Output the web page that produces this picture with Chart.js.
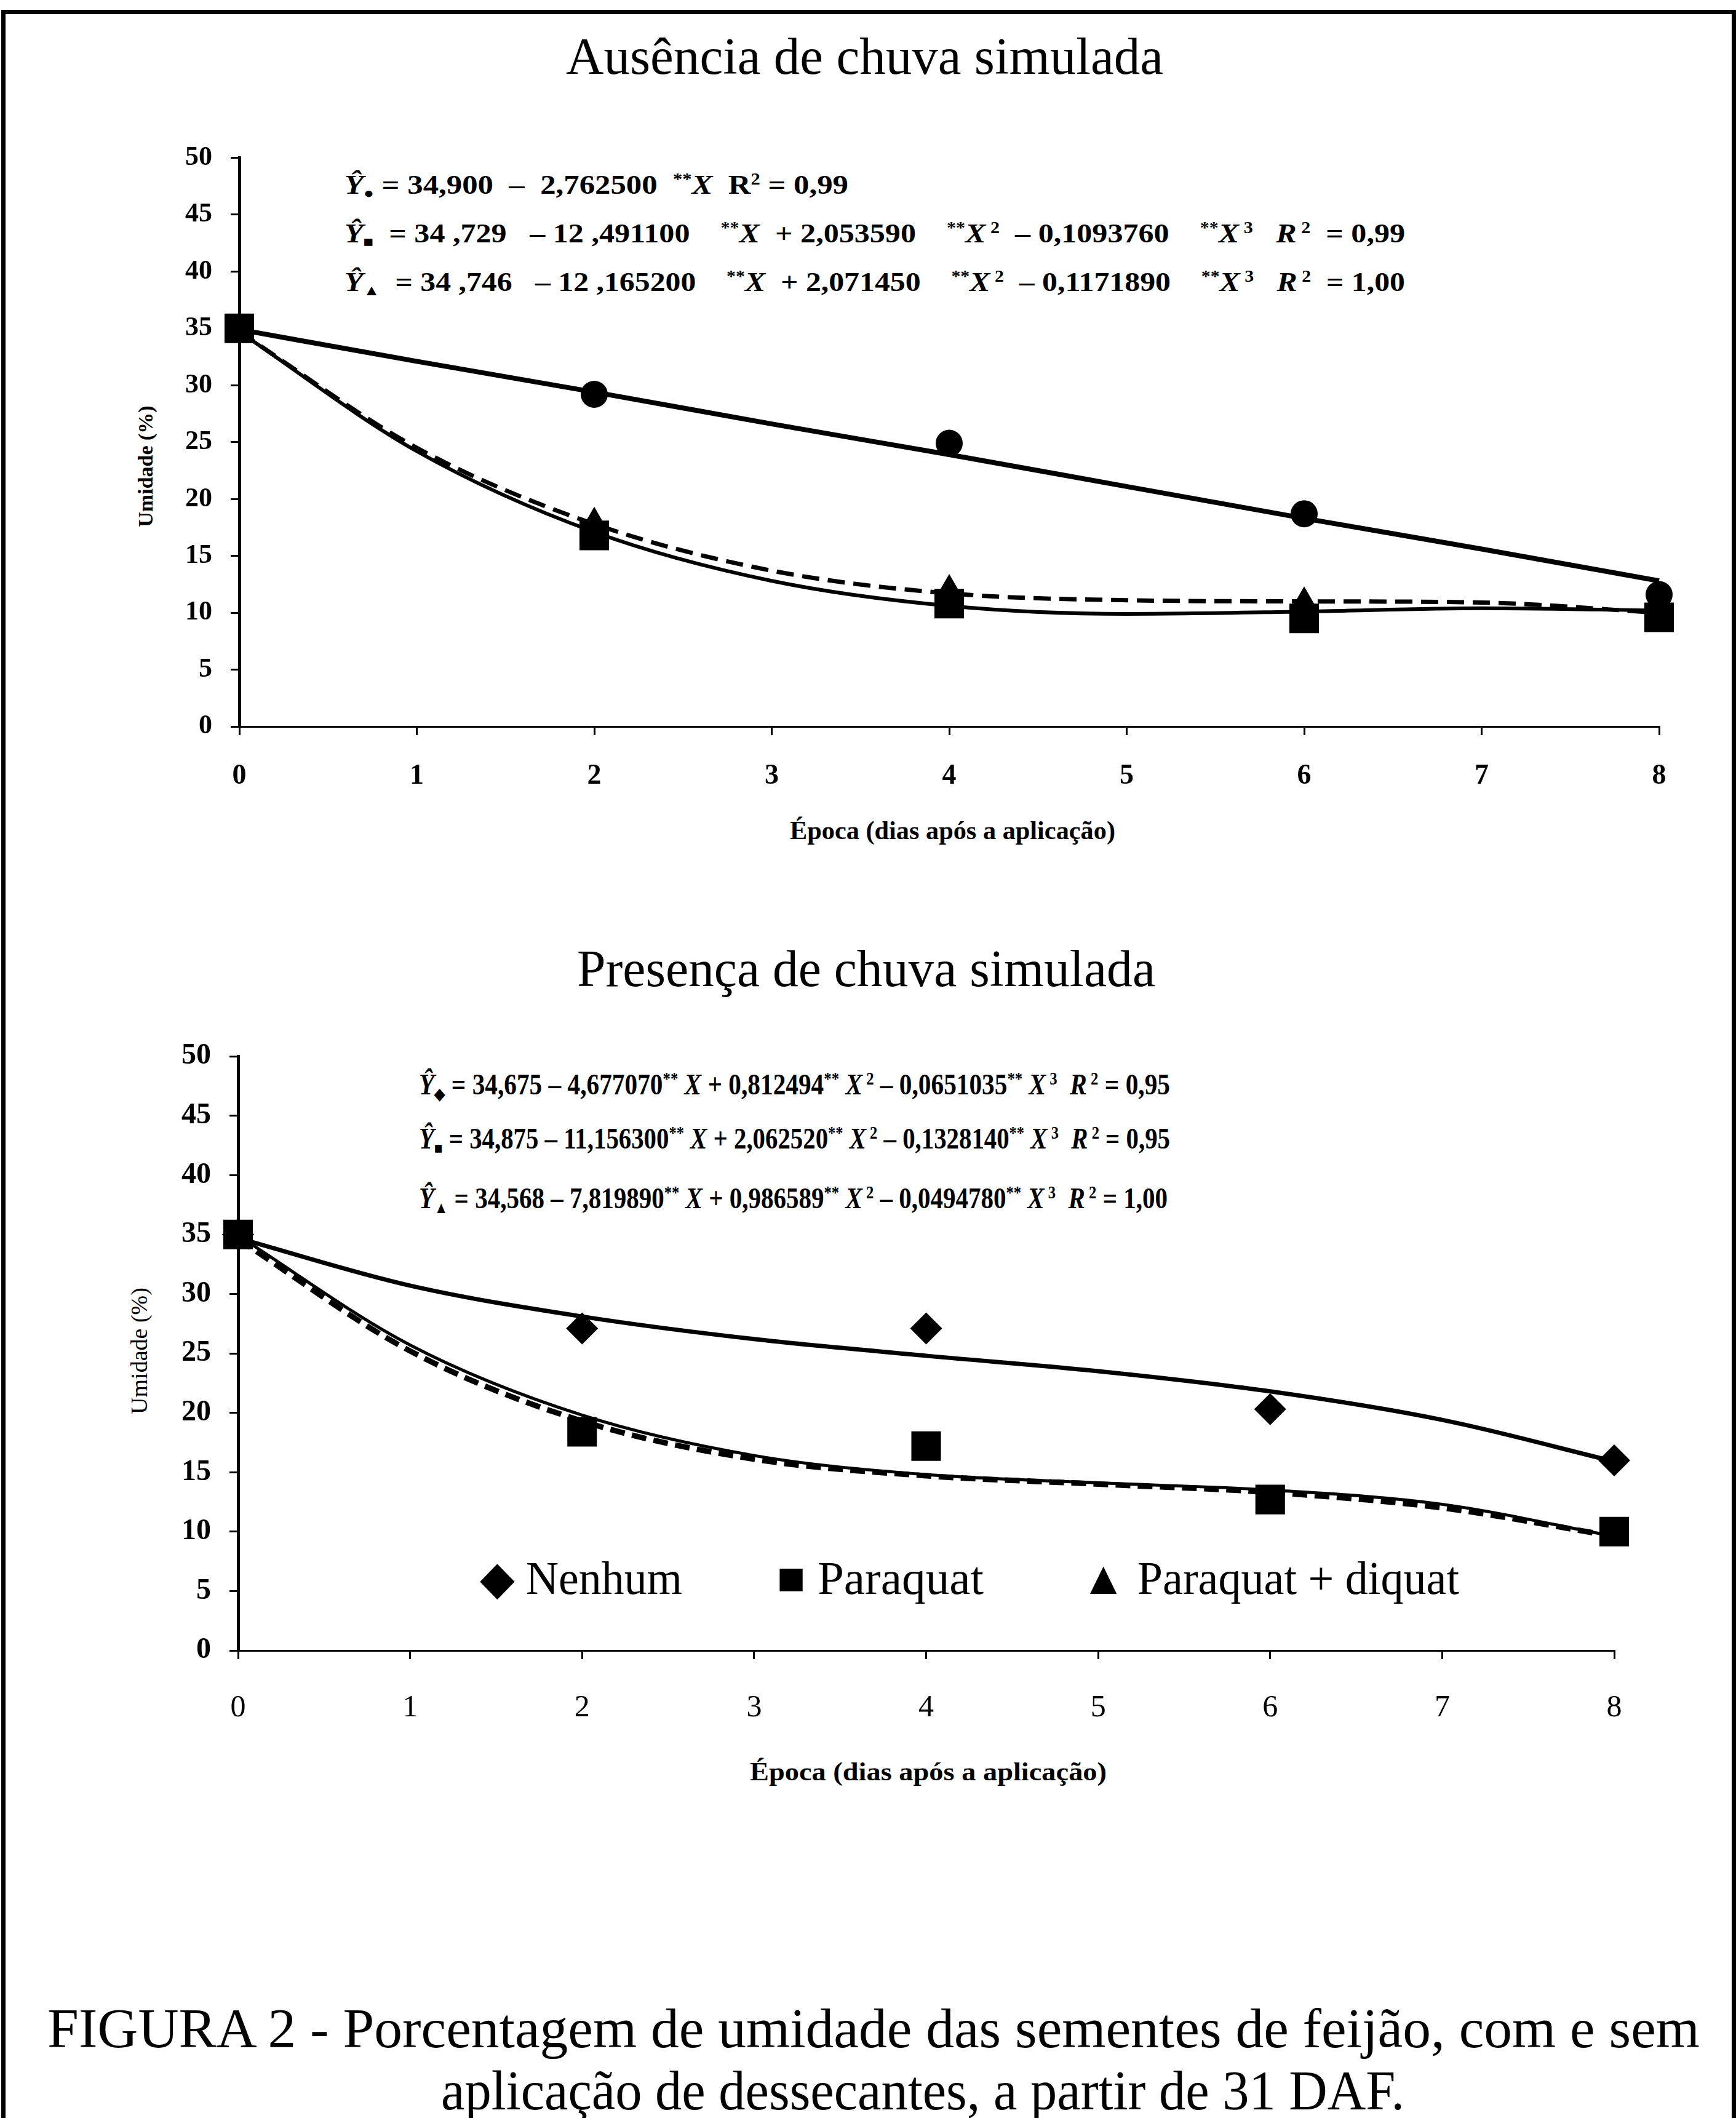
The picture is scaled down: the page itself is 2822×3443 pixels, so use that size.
<!DOCTYPE html>
<html>
<head>
<meta charset="utf-8">
<script src="https://cdn.jsdelivr.net/npm/chart.js@4.4.1/dist/chart.umd.min.js"></script>
<style>
  body { margin: 0; background: #fff; width: 2822px; height: 3443px; position: relative; overflow: hidden;
         font-family: "Liberation Serif", "Times New Roman", serif; color: #000; }
  .frame { position: absolute; left: 2px; top: 16px; width: 2806px; height: 3500px; border: 7px solid #000; border-bottom: none; }
  .t { position: absolute; white-space: pre; line-height: 1; transform-origin: left center; }
  .rot { position: absolute; white-space: pre; line-height: 1; transform: translate(-50%, -50%) rotate(-90deg); }
  .eq { font-weight: bold; }
  .eq i { font-style: italic; }
  .eq sup { font-size: 60%; vertical-align: 0.55em; line-height: 0; }
  .eq sub { font-size: 55%; vertical-align: -0.3em; line-height: 0; }
  canvas { position: absolute; left: 0; }
</style>
</head>
<body>
<div class="frame"></div>

<!-- titulos -->
<div class="t" id="tit1" style="font-size:84px">Ausência de chuva simulada</div>
<div class="t" id="tit2" style="font-size:84px">Presença de chuva simulada</div>

<!-- equações -->
<div class="t eq" id="eqA1" style="font-size:44px"><i>Ŷ</i><sub>●</sub> = 34,900  –  2,762500  <sup>**</sup><i>X</i>  R<sup>2</sup> = 0,99</div>
<div class="t eq" id="eqA2" style="font-size:44px"><i>Ŷ</i><sub>■</sub>  = 34 ,729   – 12 ,491100    <sup>**</sup><i>X</i>  + 2,053590    <sup>**</sup><i>X</i><sup> 2</sup>  – 0,1093760    <sup>**</sup><i>X</i><sup> 3</sup>   <i>R</i><sup> 2</sup>  = 0,99</div>
<div class="t eq" id="eqA3" style="font-size:44px"><i>Ŷ</i><sub>▲</sub>  = 34 ,746   – 12 ,165200    <sup>**</sup><i>X</i>  + 2,071450    <sup>**</sup><i>X</i><sup> 2</sup>  – 0,1171890    <sup>**</sup><i>X</i><sup> 3</sup>   <i>R</i><sup> 2</sup>  = 1,00</div>

<div class="t eq" id="eqB1" style="font-size:48px"><i>Ŷ</i><sub>◆</sub> = 34,675 – 4,677070<sup>**</sup> <i>X</i> + 0,812494<sup>**</sup> <i>X</i><sup> 2</sup> – 0,0651035<sup>**</sup> <i>X</i><sup> 3</sup>  <i>R</i><sup> 2</sup> = 0,95</div>
<div class="t eq" id="eqB2" style="font-size:48px"><i>Ŷ</i><sub>■</sub> = 34,875 – 11,156300<sup>**</sup> <i>X</i> + 2,062520<sup>**</sup> <i>X</i><sup> 2</sup> – 0,1328140<sup>**</sup> <i>X</i><sup> 3</sup>  <i>R</i><sup> 2</sup> = 0,95</div>
<div class="t eq" id="eqB3" style="font-size:48px"><i>Ŷ</i><sub>▲</sub> = 34,568 – 7,819890<sup>**</sup> <i>X</i> + 0,986589<sup>**</sup> <i>X</i><sup> 2</sup> – 0,0494780<sup>**</sup> <i>X</i><sup> 3</sup>  <i>R</i><sup> 2</sup> = 1,00</div>

<!-- eixos -->
<div class="rot" id="ytit1" style="font-size:34px;font-weight:bold;left:237px;top:758px">Umidade (%)</div>
<div class="rot" id="ytit2" style="font-size:38px;left:226px;top:2196px">Umidade (%)</div>
<div class="t" id="xtit1" style="font-size:42px;font-weight:bold">Época (dias após a aplicação)</div>
<div class="t" id="xtit2" style="font-size:42px;font-weight:bold">Época (dias após a aplicação)</div>

<!-- legenda -->
<div class="t" id="leg1" style="font-size:76px"></div>
<div class="t" id="leg2" style="font-size:76px"></div>
<div class="t" id="leg3" style="font-size:76px"></div>

<!-- legenda da figura -->
<div class="t" id="cap1" style="font-size:90px">FIGURA 2 - Porcentagem de umidade das sementes de feijão, com e sem</div>
<div class="t" id="cap2" style="font-size:90px">aplicação de dessecantes, a partir de 31 DAF.</div>

<canvas id="graf1" width="2822" height="1130" style="top:200px"></canvas>
<canvas id="graf2" width="2822" height="1200" style="top:1650px"></canvas>

<script>
// Épocas (dias após a aplicação)
const epocas = [0, 2, 4, 6, 8];
const curvaX = [0, 1, 2, 3, 4, 5, 6, 7, 8];
const tratamentos = ['Nenhum', 'Paraquat', 'Paraquat + diquat'];

// Ausência de chuva simulada - pontos observados
const ausNenhum = [35, 29.2, 24.9, 18.7, 11.6];
const ausParaquat = [35, 16.8, 10.8, 9.5, 9.6];
const ausParaDiquat = [35, 17.8, 11.9, 10.8, 10.2];
// Ausência - curvas ajustadas
const ausCurvaNenhum = [34.9, 32.1, 29.4, 26.6, 23.9, 21.1, 18.3, 15.6, 12.8];
const ausCurvaParaquat = [34.7, 24.2, 17.1, 12.8, 10.6, 9.9, 10.1, 10.4, 10.2];
const ausCurvaParaDiquat = [34.7, 24.5, 17.8, 13.7, 11.7, 11.1, 11.0, 10.9, 10.0];

// Presença de chuva simulada - pontos observados
const preNenhum = [35, 27.1, 27.1, 20.3, 16.0];
const preParaquat = [35, 18.4, 17.2, 12.7, 10.0];
const preParaDiquat = [35, null, null, null, null];
// Presença - curvas ajustadas
const preCurvaNenhum = [34.7, 30.7, 28.1, 26.2, 24.8, 23.5, 21.8, 19.4, 15.9];
const preCurvaParaquat = [34.9, 25.7, 19.8, 16.4, 14.8, 14.1, 13.5, 12.3, 9.6];
const preCurvaParaDiquat = [34.6, 25.2, 19.3, 16.1, 14.7, 14.0, 13.3, 12.0, 9.6];

const fonte = '"Liberation Serif", "Times New Roman", serif';

function pares(xs, ys) {
    return xs.map((x, i) => ({ x: x, y: ys[i] }));
}

// posiciona um texto pelo centro, esticando até a largura desejada
function centro(id, cx, cy, w) {
    const el = document.getElementById(id);
    const r = el.getBoundingClientRect();
    const s = w ? w / r.width : 1;
    el.style.left = (cx - r.width * s / 2) + 'px';
    el.style.top = (cy - r.height / 2) + 'px';
    el.style.transform = 'scaleX(' + s + ')';
}
function esquerda(id, x, cy, w) {
    const el = document.getElementById(id);
    const r = el.getBoundingClientRect();
    const s = w ? w / r.width : 1;
    el.style.left = x + 'px';
    el.style.top = (cy - r.height / 2) + 'px';
    el.style.transform = 'scaleX(' + s + ')';
}

function grafico(id, o) {
    const pontos = [
        { label: tratamentos[1], data: pares(epocas, o.pts[1]), pointStyle: 'rect', pointRadius: 34, order: 0 },
        { label: tratamentos[2], data: pares(epocas, o.pts[2]), pointStyle: 'triangle', pointRadius: 28, order: 1 },
        { label: tratamentos[0], data: pares(epocas, o.pts[0]), pointStyle: o.estilo0, pointRadius: o.raio0, order: 2 }
    ].map(d => Object.assign(d, {
        showLine: false, backgroundColor: '#000', borderColor: '#000', borderWidth: 0, clip: false
    }));

    const curvas = [
        { data: pares(curvaX, o.curvas[0]), borderWidth: o.lw[0], order: 3 },
        { data: pares(curvaX, o.curvas[1]), borderWidth: o.lw[1], order: 4 },
        { data: pares(curvaX, o.curvas[2]), borderWidth: o.lw[2], borderDash: o.traco, order: 5 }
    ].map(d => Object.assign(d, {
        showLine: true, pointRadius: 0, borderColor: '#000', cubicInterpolationMode: 'monotone', clip: false
    }));

    const fonteX = { family: fonte, size: o.tickX, weight: o.negritoX ? 'bold' : 'normal' };
    const fonteY = { family: fonte, size: o.tickY, weight: 'bold' };

    return new Chart(document.getElementById(id), {
        type: 'scatter',
        data: { datasets: pontos.concat(curvas) },
        options: {
            responsive: false,
            animation: false,
            events: [],
            layout: { padding: o.pad },
            plugins: { legend: { display: false }, tooltip: { enabled: false } },
            scales: {
                x: {
                    type: 'linear', min: 0, max: 8,
                    ticks: { stepSize: 1, color: '#000', font: fonteX, padding: o.xpad },
                    grid: { drawOnChartArea: false, drawTicks: true, tickLength: 14, color: '#000', lineWidth: 3 },
                    border: { color: '#000', width: 3 },
                    afterFit: s => { s.height = o.xh; }
                },
                y: {
                    min: 0, max: 50,
                    ticks: { stepSize: 5, color: '#000', font: fonteY, padding: 30 },
                    grid: { drawOnChartArea: false, drawTicks: true, tickLength: 14, color: '#000', lineWidth: 3 },
                    border: { color: '#000', width: 5 },
                    afterFit: s => { s.width = o.yw; }
                }
            }
        }
    });
}

document.addEventListener('DOMContentLoaded', function() {
    // Legenda
    const simb = ['◆', '■', '▲'];
    ['leg1', 'leg2', 'leg3'].forEach((id, i) => {
        document.getElementById(id).textContent = simb[i] + ' ' + tratamentos[i];
    });

    centro('tit1', 1405, 92, 971);
    centro('tit2', 1408, 1575, 940);

    esquerda('eqA1', 560, 301, 819);
    esquerda('eqA2', 560, 380, 1724);
    esquerda('eqA3', 560, 459, 1724);
    esquerda('eqB1', 681, 1763, 1221);
    esquerda('eqB2', 681, 1851, 1221);
    esquerda('eqB3', 681, 1948, 1217);

    centro('xtit1', 1548, 1350, 529);
    centro('xtit2', 1509, 2880, 580);

    esquerda('leg1', 780, 2565, 329);
    esquerda('leg2', 1263, 2565, 336);
    esquerda('leg3', 1757, 2565, 615);

    centro('cap1', 1420, 3298, 2686);
    centro('cap2', 1500, 3399, 1566);

    // Ausência de chuva simulada
    grafico('graf1', {
        pts: [ausNenhum, ausParaquat, ausParaDiquat],
        curvas: [ausCurvaNenhum, ausCurvaParaquat, ausCurvaParaDiquat],
        estilo0: 'circle', raio0: 22,
        lw: [8, 6, 7], traco: [28, 14],
        pad: { top: 55, right: 125, left: 0, bottom: 0 },
        yw: 389, xh: 149, xpad: 40, tickX: 46, negritoX: true, tickY: 44
    });

    // Presença de chuva simulada
    grafico('graf2', {
        pts: [preNenhum, preParaquat, preParaDiquat],
        curvas: [preCurvaNenhum, preCurvaParaquat, preCurvaParaDiquat],
        estilo0: 'rectRot', raio0: 26,
        lw: [7, 5, 9], traco: [24, 12],
        pad: { top: 67, right: 198, left: 0, bottom: 0 },
        yw: 387, xh: 167, xpad: 50, tickX: 50, negritoX: false, tickY: 48
    });
});
</script>
</body>
</html>
